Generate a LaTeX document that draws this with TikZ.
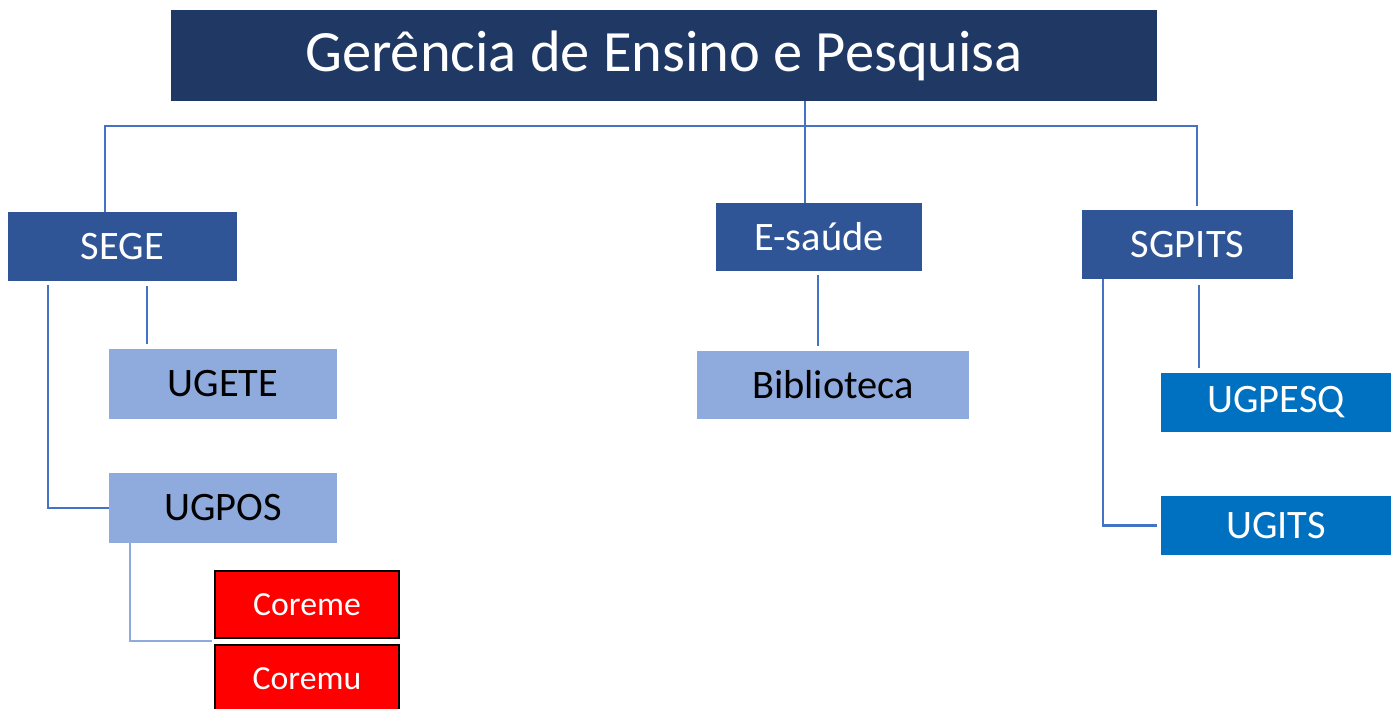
\documentclass[tikz,border=0pt]{standalone}
\usepackage{fontspec}
\setmainfont{Carlito}
\definecolor{navy}{HTML}{1F3864}
\definecolor{midblue}{HTML}{2F5597}
\definecolor{paleblue}{HTML}{8FAADC}
\definecolor{brightblue}{HTML}{0070C0}
\definecolor{linkblue}{HTML}{4472C4}
\begin{document}
\begin{tikzpicture}[x=0.02cm,y=-0.02cm,
	box/.style={inner sep=0pt,font=\fontsize{23}{27}\selectfont},
	topbox/.style={box,fill=midblue,text=white},
	unitbox/.style={box,fill=paleblue,text=black},
	resbox/.style={box,fill=brightblue,text=white},
	redbox/.style={box,fill=red,draw=black,line width=1.5pt,text=white,font=\fontsize{19.2}{23}\selectfont},
	link/.style={draw=linkblue,line width=1.2pt},
	palelink/.style={draw=paleblue,line width=1.2pt}]
	\useasboundingbox (0,0) rectangle (1395,708);
	\node[fill=navy,text=white,inner sep=0pt,minimum width=986*0.02cm,minimum height=91*0.02cm,font=\fontsize{33.3}{40}\selectfont] (gep) at (664,55.5) {Gerência de Ensino e Pesquisa};
	\node[topbox,minimum width=229*0.02cm,minimum height=69*0.02cm] (sege) at (122.5,246.5) {SEGE};
	\node[topbox,minimum width=206*0.02cm,minimum height=68*0.02cm] (esaude) at (819,237) {E-saúde};
	\node[topbox,minimum width=211*0.02cm,minimum height=69*0.02cm] (sgpits) at (1187.5,244.5) {SGPITS};
	\node[unitbox,minimum width=228*0.02cm,minimum height=70*0.02cm] (ugete) at (223,384) {UGETE};
	\node[unitbox,minimum width=228*0.02cm,minimum height=70*0.02cm] (ugpos) at (223,508) {UGPOS};
	\node[unitbox,minimum width=272*0.02cm,minimum height=68*0.02cm] (biblio) at (833,385) {Biblioteca};
	\node[resbox,minimum width=230*0.02cm,minimum height=59*0.02cm] (ugpesq) at (1276,402.5) {UGPESQ};
	\node[resbox,minimum width=230*0.02cm,minimum height=59*0.02cm] (ugits) at (1276,525.5) {UGITS};
	\node[redbox,minimum width=184*0.02cm,minimum height=67*0.02cm] (coreme) at (307,604.5) {Coreme};
	\node[redbox,minimum width=184*0.02cm,minimum height=67*0.02cm] (coremu) at (307,678.5) {Coremu};
	\coordinate (hub) at (805,126);
	\coordinate (barL) at (105,126);
	\coordinate (barR) at (1197,126);
	\coordinate (sgtop) at (1197,206);
	\coordinate (segeL) at (48,285);
	\coordinate (segeM) at (147,286);
	\coordinate (ugeteTop) at (147,344);
	\coordinate (ugposL) at (130,543);
	\coordinate (coremeIn) at (212,641);
	\coordinate (esaudeB) at (818,275);
	\coordinate (biblioTop) at (818,346);
	\coordinate (sgpitsL) at (1103,279);
	\coordinate (sgpitsM) at (1199,285);
	\coordinate (ugpesqTop) at (1199,368);
	\draw[link] (gep.south -| hub) -- (esaude.north -| hub);
	\draw[link] (sege.north -| barL) -- (barL) -- (barR) -- (sgtop);
	\draw[link] (segeL) |- (ugpos.west);
	\draw[link] (segeM) -- (ugeteTop);
	\draw[palelink] (ugposL) |- (coremeIn);
	\draw[link] (esaudeB) -- (biblioTop);
	\draw[link] (sgpitsL) |- ([xshift=-4*0.02cm]ugits.west);
	\draw[link] (sgpitsM) -- (ugpesqTop);
\end{tikzpicture}
\end{document}
